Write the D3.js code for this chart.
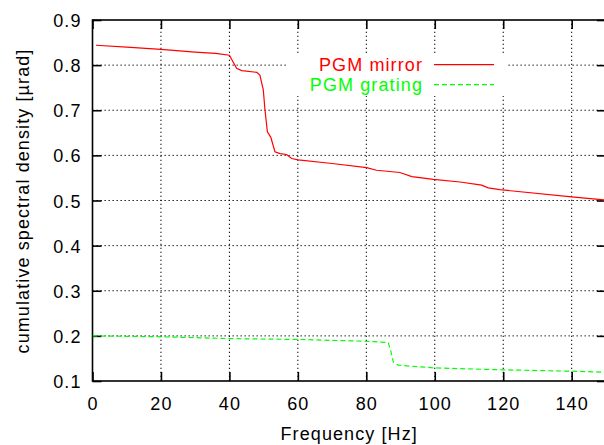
<!DOCTYPE html>
<html><head><meta charset="utf-8">
<script src="https://cdn.jsdelivr.net/npm/d3@7"></script>
<style>
body{margin:0;background:#fff;}
text{font-family:"Liberation Sans",Arial,Helvetica,sans-serif;font-size:18px;letter-spacing:1.1px;}
</style></head>
<body><svg id="c" width="604" height="445"></svg>
<script>
const xTicks = [0,20,40,60,80,100,120,140];
const yTicks = [0.1,0.2,0.3,0.4,0.5,0.6,0.7,0.8,0.9];
const mirrorFreq = [1,10,20,30,36,40,42.1,43.6,48,48.9,49.9,50.4,51.1,52.1,53.3,54.8,56.7,58.2,60.1,70,80.1,83,89.8,93.3,99.6,107.4,113.7,115.6,119,140,150];
const mirrorVal  = [0.844,0.840,0.835,0.829,0.826,0.822,0.793,0.788,0.784,0.778,0.745,0.700,0.652,0.640,0.608,0.604,0.602,0.593,0.590,0.582,0.573,0.567,0.562,0.553,0.547,0.541,0.534,0.528,0.524,0.508,0.501];
const gratingFreq = [0,20,40,60.6,80.1,86.4,87.1,87.9,89.3,100,120,140,150];
const gratingVal  = [0.200,0.198,0.194,0.192,0.188,0.1854,0.168,0.142,0.135,0.129,0.1247,0.1217,0.1195];
const seriesNames = ["PGM mirror","PGM grating"];

const svg = d3.select("#c");
const x = d3.scaleLinear().domain([0,150]).range([92.5,605.9]);
const y = d3.scaleLinear().domain([0.1,0.9]).range([381,20]);
const [x0,x1] = x.range(), [y0,y1] = y.range();

// grid
const grid = svg.append("g").attr("stroke","#000").attr("stroke-width",1).attr("stroke-dasharray","1.3,2.7");
xTicks.filter(v=>v>0).forEach(v=>grid.append("line").attr("x1",x(v)).attr("x2",x(v)).attr("y1",y0).attr("y2",y1));
yTicks.filter(v=>v>0.1&&v<0.9).forEach(v=>grid.append("line").attr("x1",x0).attr("x2",x1).attr("y1",y(v)).attr("y2",y(v)));
// key area clears grid
svg.append("rect").attr("x",286).attr("y",54).attr("width",220).attr("height",42).attr("fill","#fff");

// axes
const fmtY = d3.format(".1f");
const axB = svg.append("g").attr("transform",`translate(0,${y0})`).call(d3.axisBottom(x).tickValues(xTicks).tickSizeInner(-9).tickSizeOuter(0).tickPadding(15));
const axT = svg.append("g").attr("transform",`translate(0,${y1})`).call(d3.axisTop(x).tickValues(xTicks).tickSizeInner(-9).tickSizeOuter(0).tickFormat(""));
const axL = svg.append("g").attr("transform",`translate(${x0},0)`).call(d3.axisLeft(y).tickValues(yTicks).tickSizeInner(-9).tickSizeOuter(0).tickPadding(12).tickFormat(fmtY));
const axR = svg.append("g").attr("transform",`translate(${x1},0)`).call(d3.axisRight(y).tickValues(yTicks).tickSizeInner(-9).tickSizeOuter(0).tickFormat(""));
[axB,axT,axL,axR].forEach(a=>{a.select(".domain").remove();a.selectAll(".tick line").attr("stroke","#000").attr("stroke-width",1.6);
  a.selectAll("text").attr("font-family",null).attr("font-size",null).attr("fill","#000");});
axB.selectAll(".tick text").attr("dy",null).attr("y",29);
axL.selectAll(".tick text").attr("dy",null).attr("y",6.5).attr("x",-11);

// border
svg.append("rect").attr("x",x0).attr("y",y1).attr("width",x1-x0).attr("height",y0-y1).attr("fill","none").attr("stroke","#000").attr("stroke-width",1.6);

// curves
svg.append("clipPath").attr("id","clip").append("rect").attr("x",x0).attr("y",y1).attr("width",x1-x0).attr("height",y0-y1);
const line = d3.line().x(d=>x(d[0])).y(d=>y(d[1]));
const mData = mirrorFreq.map((f,i)=>[f,mirrorVal[i]]);
const gData = gratingFreq.map((f,i)=>[f,gratingVal[i]]);
svg.append("path").datum(mData).attr("d",line).attr("fill","none").attr("stroke","#ff0000").attr("stroke-width",1.2).attr("clip-path","url(#clip)");
svg.append("path").datum(gData).attr("d",line).attr("fill","none").attr("stroke","#00ff00").attr("stroke-width",1.2).attr("stroke-dasharray","5,3").attr("clip-path","url(#clip)");

// legend
const colors = ["#ff0000","#00ff00"];
const dashes = [null,"5,3"];
seriesNames.forEach((n,i)=>{
  const ly = 64.7 + i*20;
  svg.append("text").attr("x",423).attr("y",ly+6.2).attr("text-anchor","end").attr("fill",colors[i]).text(n);
  svg.append("line").attr("x1",434).attr("x2",494).attr("y1",ly).attr("y2",ly).attr("stroke",colors[i]).attr("stroke-width",1.2).attr("stroke-dasharray",dashes[i]);
});

// axis titles
svg.append("text").attr("x",(x0+x1)/2).attr("y",440).attr("text-anchor","middle").attr("fill","#000").text("Frequency [Hz]");
svg.append("text").attr("transform","translate(29,201) rotate(-90)").attr("text-anchor","middle").attr("fill","#000").text("cumulative spectral density [µrad]");
</script></body></html>
